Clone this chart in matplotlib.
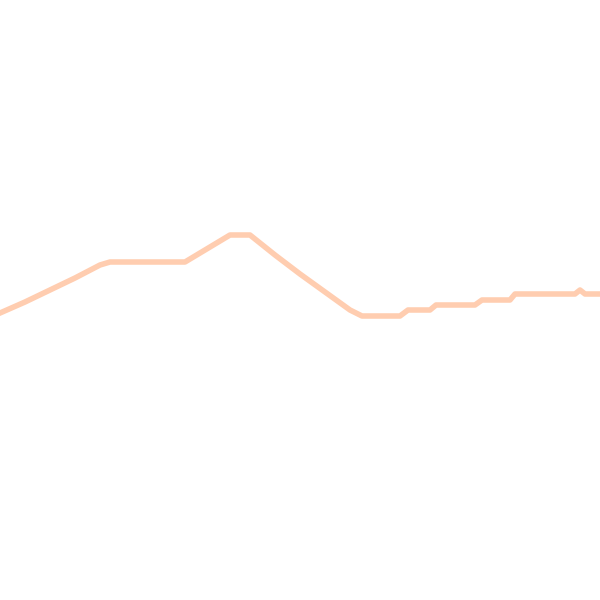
import matplotlib
matplotlib.use("Agg")
import matplotlib.pyplot as plt

# values (pixel height from the bottom, 600 = top)
x_pos = [0, 25, 50, 75, 100, 110, 150, 185, 200, 230, 250, 275, 300,
         325, 350, 362, 400, 408, 430, 436, 475, 482, 510, 515, 575, 580, 585, 600]
values = [287, 298, 310, 322, 335, 338, 338, 338, 347, 365, 365, 345, 326,
          308, 290, 284, 284, 290, 290, 295, 295, 300, 300, 306, 306, 310, 306, 306]

LINE_COLOR = "#FFCDB0"

fig = plt.figure(figsize=(6, 6), dpi=100)
ax = fig.add_axes([0, 0, 1, 1])
ax.plot(x_pos, values, color=LINE_COLOR, linewidth=4.0)
ax.set_xlim(0, 600)
ax.set_ylim(0, 600)
ax.axis("off")

fig.savefig("out.png", dpi=100, facecolor="white")
